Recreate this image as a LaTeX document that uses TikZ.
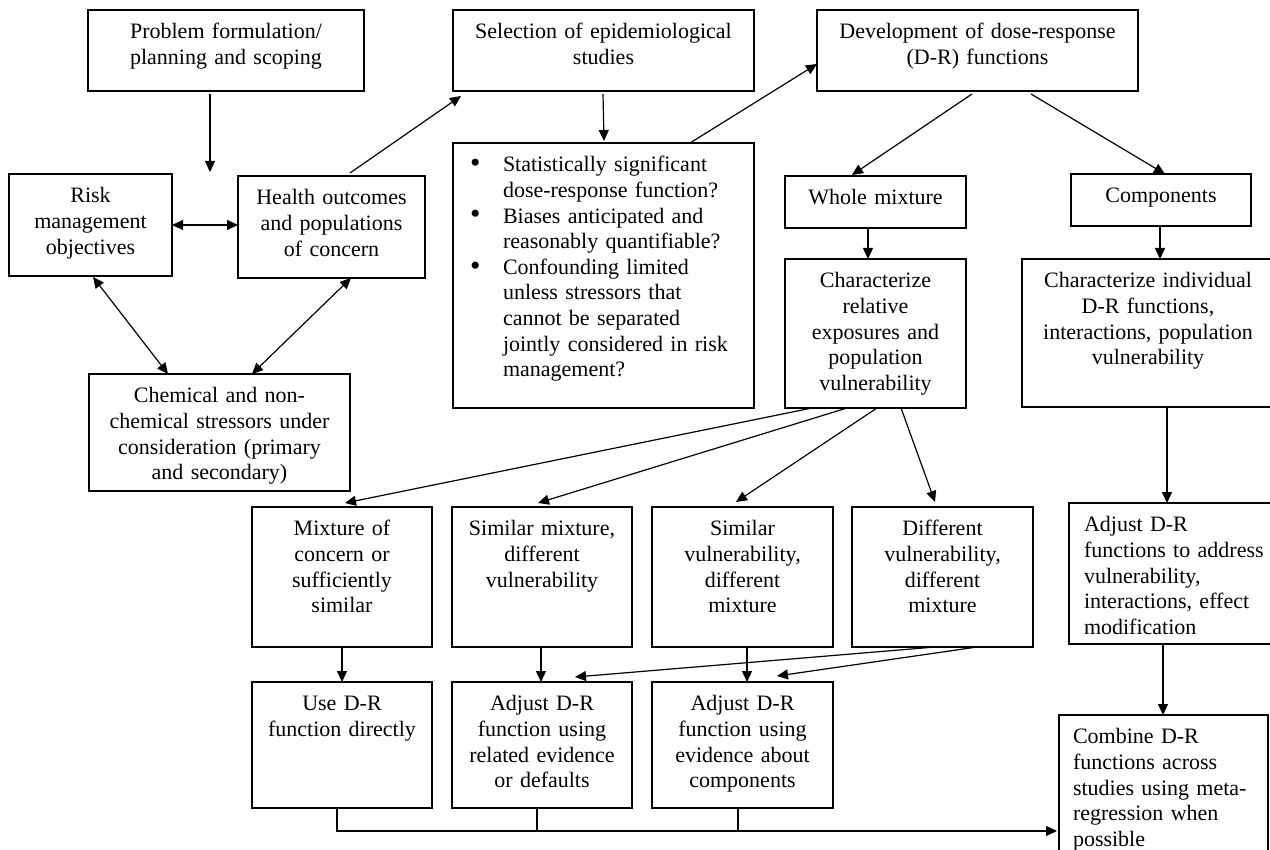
\documentclass[tikz,border=0pt]{standalone}
\usepackage{fontspec}
\usepackage{graphicx}
\setmainfont{Liberation Serif}
\usetikzlibrary{arrows.meta,calc}
\tikzset{
  boxst/.style={draw, line width=1.3pt, rectangle, inner ysep=11pt, outer sep=0pt,
    font=\fontsize{22}{25.6}\selectfont, execute at begin node={\hyphenpenalty=10000 }},
  arr/.style={line width=1.2pt, -{Triangle[length=11pt,width=10pt]}},
  darr/.style={line width=1.2pt, {Triangle[length=11pt,width=10pt]}-{Triangle[length=11pt,width=10pt]}},
  ln/.style={line width=1.2pt},
}
\newcommand{\bx}[8]{%
  \pgfmathsetmacro\bxw{#4-#2-2*#6}%
  \pgfmathsetmacro\bxd{#5-#3-22-17.85}%
  \node[boxst, anchor=north west, inner xsep=#6pt, text width=\bxw pt,
    text height=17.85pt, text depth=\bxd pt, align=#7] (#1) at (#2,#3) {#8};}
\newcommand{\bulitem}{\noindent\llap{\makebox[33pt][l]{\raisebox{-0.8pt}{\scalebox{1.35}{\textbullet}}}}}
\begin{document}
\begin{tikzpicture}[x=1pt,y=-1pt]
\useasboundingbox (0,0) rectangle (1270,850);
\clip (0,0) rectangle (1270,850);
% boxes
\bx{prob}{88}{10}{364}{91}{4}{center}{Problem formulation/\\planning and scoping}
\bx{risk}{9}{174}{172}{276}{4}{center}{Risk\\management\\objectives}
\bx{health}{238}{176}{425}{278}{4}{center}{Health outcomes\\and populations\\of concern}
\bx{chem}{89}{374}{350}{491}{4}{center}{Chemical and non-\\chemical stressors under\\consideration (primary\\and secondary)}
\bx{sel}{453}{10}{754}{91}{4}{center}{Selection of epidemiological\\studies}
\pgfmathsetmacro\critd{408-143-22-17.85}
\node[boxst, anchor=north west, inner xsep=0pt, text width=301pt, text height=17.85pt,
  text depth=\critd pt] (crit) at (453,143) {{\parindent=0pt\parskip=0pt\leftskip=50pt\rightskip=0pt plus 1fil
\bulitem Statistically significant\\dose-response function?\par
\bulitem Biases anticipated and\\reasonably quantifiable?\par
\bulitem Confounding limited\\unless stressors that\\cannot be separated\\jointly considered in risk\\management?\par}};
\bx{dev}{817}{10}{1138}{91}{4}{center}{Development of dose-response\\(D-R) functions}
\bx{whole}{785}{176}{966}{228}{4}{center}{Whole mixture}
\bx{comp}{1071}{174}{1251}{226}{4}{center}{Components}
\bx{charrel}{785}{259}{966}{408}{4}{center}{Characterize\\relative\\exposures and\\population\\vulnerability}
\bx{charind}{1022}{259}{1274}{407}{4}{center}{Characterize individual\\D-R functions,\\interactions, population\\vulnerability}
\bx{mix}{252}{507}{432}{647}{4}{center}{Mixture of\\concern or\\sufficiently\\similar}
\bx{simmix}{452}{507}{632}{647}{4}{center}{Similar mixture,\\different\\vulnerability}
\bx{simvul}{652}{507}{833}{647}{4}{center}{Similar\\vulnerability,\\different\\mixture}
\bx{difvul}{852}{507}{1033}{647}{4}{center}{Different\\vulnerability,\\different\\mixture}
\bx{adjfn}{1069}{503}{1290}{644}{15}{left}{Adjust D-R\\functions to address\\vulnerability,\\interactions, effect\\modification}
\bx{usedr}{252}{682}{432}{808}{4}{center}{Use D-R\\function directly}
\bx{adjrel}{452}{682}{632}{808}{4}{center}{Adjust D-R\\function using\\related evidence\\or defaults}
\bx{adjcomp}{652}{682}{833}{808}{4}{center}{Adjust D-R\\function using\\evidence about\\components}
\bx{combine}{1059}{715}{1268}{872}{14}{left}{Combine D-R\\functions across\\studies using meta-\\regression when\\possible}
% connectors
\coordinate (pj) at (210,172);
\draw[arr] ($(prob.south west)+(122,3)$) -- (pj);
\draw[darr] (risk.east) -- (risk.east -| health.west);
\draw[darr] ($(risk.south west)+(84,1)$) -- ($(chem.north west)+(79,0)$);
\draw[darr] ($(health.south west)+(113,0)$) -- ($(chem.north west)+(163,0)$);
\draw[arr] ($(health.north west)+(112,-3)$) -- ($(sel.south west)+(8,5)$);
\draw[arr] ($(sel.south west)+(150,3)$) -- ($(crit.north west)+(151,-2)$);
\draw[arr] ($(crit.north west)+(237,0)$) -- ($(dev.north west)+(0,54)$);
\draw[arr] ($(dev.south west)+(155,3)$) -- ($(whole.north west)+(67,-1)$);
\draw[arr] ($(dev.south west)+(214,3)$) -- ($(comp.north west)+(94,0)$);
\draw[arr] ($(whole.south west)+(83,0)$) -- ($(charrel.north west)+(83,0)$);
\draw[arr] ($(comp.south west)+(89,0)$) -- ($(charind.north west)+(138,0)$);
\draw[arr] ($(charrel.south west)+(27,0)$) -- ($(mix.north west)+(93,-4)$);
\draw[arr] ($(charrel.south west)+(62,0)$) -- ($(simmix.north west)+(86,-4)$);
\draw[arr] ($(charrel.south west)+(92,0)$) -- ($(simvul.north west)+(84,-5)$);
\draw[arr] ($(charrel.south west)+(116,0)$) -- ($(difvul.north west)+(83,-5)$);
\draw[arr] ($(charind.south west)+(145,0)$) -- ($(adjfn.north west)+(98,0)$);
\draw[arr] ($(adjfn.south west)+(94,0)$) -- ($(combine.north west)+(104,0)$);
\draw[arr] ($(mix.south west)+(90,0)$) -- ($(usedr.north west)+(90,0)$);
\draw[arr] ($(simmix.south west)+(89,0)$) -- ($(adjrel.north west)+(89,0)$);
\draw[arr] ($(simvul.south west)+(95,0)$) -- ($(adjcomp.north west)+(95,0)$);
\draw[arr] ($(difvul.south west)+(83,0)$) -- ($(adjrel.north west)+(123,-5)$);
\draw[arr] ($(difvul.south west)+(125,0)$) -- ($(adjcomp.north west)+(125,-6)$);
\draw[arr] ($(usedr.south west)+(85,0)$) |- ($(combine.north west)+(-2,116)$);
\draw[ln] ($(adjrel.south west)+(85,0)$) -- ($(adjrel.south west)+(85,23)$);
\draw[ln] ($(adjcomp.south west)+(86,0)$) -- ($(adjcomp.south west)+(86,23)$);
\end{tikzpicture}
\end{document}
